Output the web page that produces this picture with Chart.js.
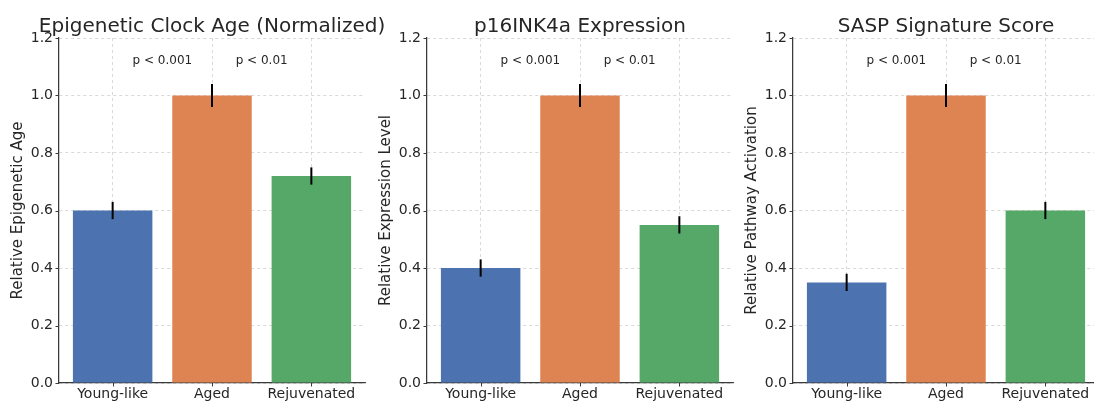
<!DOCTYPE html>
<html>
<head>
<meta charset="utf-8">
<script src="https://cdn.jsdelivr.net/npm/chart.js@4"></script>
<style>
  html, body { margin: 0; padding: 0; background: #fff; overflow: hidden; width: 1094px; height: 401px; }
  canvas { position: absolute; top: 0; }
</style>
</head>
<body>
<canvas id="c1" width="395" height="401" style="left:0px"></canvas>
<canvas id="c2" width="395" height="401" style="left:368px"></canvas>
<canvas id="c3" width="395" height="401" style="left:734px"></canvas>
<script>
const categories = ['Young-like', 'Aged', 'Rejuvenated'];
const barColors = ['#4C72B0', '#DD8452', '#55A868'];

const clockValues = [0.60, 1.00, 0.72];
const clockErrors = [0.03, 0.04, 0.03];
const p16Values = [0.40, 1.00, 0.55];
const p16Errors = [0.03, 0.04, 0.03];
const saspValues = [0.35, 1.00, 0.60];
const saspErrors = [0.03, 0.04, 0.03];

const yTicks = [0.0, 0.2, 0.4, 0.6, 0.8, 1.0, 1.2];
const pLabels = ['p < 0.001', 'p < 0.01'];
const pPositions = [0.5, 1.5];
const pHeight = 1.1;

const fontFamily = "'DejaVu Sans', sans-serif";
const textColor = '#262626';
const spineColor = '#3a3a3a';
const gridColor = 'rgba(175,175,175,0.6)';

// error bars, p-values, title and ticks
const extras = {
    id: 'extras',
    afterDatasetsDraw(chart) {
        const ctx = chart.ctx;
        const xs = chart.scales.x, ys = chart.scales.y;
        const errs = chart.options.plugins.extras.errors;
        const vals = chart.data.datasets[0].data;
        ctx.save();
        ctx.strokeStyle = '#000';
        ctx.lineWidth = 2;
        for (let i = 0; i < vals.length; i++) {
            const x = xs.getPixelForValue(vals[i].x);
            ctx.beginPath();
            ctx.moveTo(x, ys.getPixelForValue(vals[i].y - errs[i]));
            ctx.lineTo(x, ys.getPixelForValue(vals[i].y + errs[i]));
            ctx.stroke();
        }
        ctx.restore();
    },
    afterDraw(chart) {
        const ctx = chart.ctx;
        const xs = chart.scales.x, ys = chart.scales.y;
        const area = chart.chartArea;
        ctx.save();
        ctx.fillStyle = textColor;
        ctx.font = '12px ' + fontFamily;
        ctx.textAlign = 'center';
        ctx.textBaseline = 'bottom';
        for (let i = 0; i < pLabels.length; i++) {
            ctx.fillText(pLabels[i], xs.getPixelForValue(pPositions[i]), ys.getPixelForValue(pHeight));
        }
        ctx.font = '20px ' + fontFamily;
        ctx.textBaseline = 'alphabetic';
        ctx.fillText(chart.options.plugins.extras.title, (area.left + area.right) / 2, 32);

        ctx.strokeStyle = spineColor;
        ctx.lineWidth = 1;
        yTicks.forEach(function (t) {
            const y = Math.round(ys.getPixelForValue(t)) + 0.5;
            ctx.beginPath();
            ctx.moveTo(area.left, y);
            ctx.lineTo(area.left - 3.5, y);
            ctx.stroke();
        });
        for (let i = 0; i < categories.length; i++) {
            const x = Math.round(xs.getPixelForValue(i)) + 0.5;
            ctx.beginPath();
            ctx.moveTo(x, area.bottom);
            ctx.lineTo(x, area.bottom + 3.5);
            ctx.stroke();
        }
        ctx.restore();
    }
};

function makeChart(id, values, errors, title, yLabel) {
    const points = values.map(function (v, i) { return { x: i, y: v }; });
    return new Chart(document.getElementById(id), {
        type: 'bar',
        data: {
            datasets: [{
                data: points,
                backgroundColor: barColors,
                borderWidth: 0,
                categoryPercentage: 1.0,
                barPercentage: 0.8
            }]
        },
        plugins: [extras],
        options: {
            responsive: false,
            animation: false,
            // right padding leaves room for a title wider than the plot
            layout: { padding: { top: 38, left: 0, right: 30, bottom: 0 } },
            plugins: {
                legend: { display: false },
                tooltip: { enabled: false },
                extras: { errors: errors, title: title }
            },
            scales: {
                x: {
                    type: 'linear',
                    min: -0.54,
                    max: 2.54,
                    offset: false,
                    z: 1,
                    afterBuildTicks: function (scale) {
                        scale.ticks = categories.map(function (c, i) { return { value: i }; });
                    },
                    afterFit: function (scale) { scale.height = 18; },
                    ticks: {
                        font: { family: fontFamily, size: 14 },
                        color: textColor,
                        padding: 3,
                        maxRotation: 0,
                        autoSkip: false,
                        callback: function (v) { return categories[v]; }
                    },
                    grid: {
                        offset: false,
                        color: gridColor,
                        lineWidth: 0.8,
                        drawTicks: false
                    },
                    border: { display: true, color: spineColor, width: 1.25, dash: [3, 3] }
                },
                y: {
                    min: 0,
                    max: 1.2,
                    z: 1,
                    afterBuildTicks: function (scale) {
                        scale.ticks = yTicks.map(function (t) { return { value: t }; });
                    },
                    afterFit: function (scale) { scale.width = 59; },
                    ticks: {
                        font: { family: fontFamily, size: 14 },
                        color: textColor,
                        padding: 6,
                        callback: function (v) { return v.toFixed(1); }
                    },
                    grid: {
                        color: gridColor,
                        lineWidth: 0.8,
                        drawTicks: false
                    },
                    border: { display: true, color: spineColor, width: 1.25, dash: [3, 3] },
                    title: {
                        display: true,
                        text: yLabel,
                        font: { family: fontFamily, size: 15 },
                        color: textColor,
                        padding: { top: 9, bottom: 0 }
                    }
                }
            }
        }
    });
}

let chart1 = makeChart('c1', clockValues, clockErrors, 'Epigenetic Clock Age (Normalized)', 'Relative Epigenetic Age');
let chart2 = makeChart('c2', p16Values, p16Errors, 'p16INK4a Expression', 'Relative Expression Level');
let chart3 = makeChart('c3', saspValues, saspErrors, 'SASP Signature Score', 'Relative Pathway Activation');
</script>
</body>
</html>
